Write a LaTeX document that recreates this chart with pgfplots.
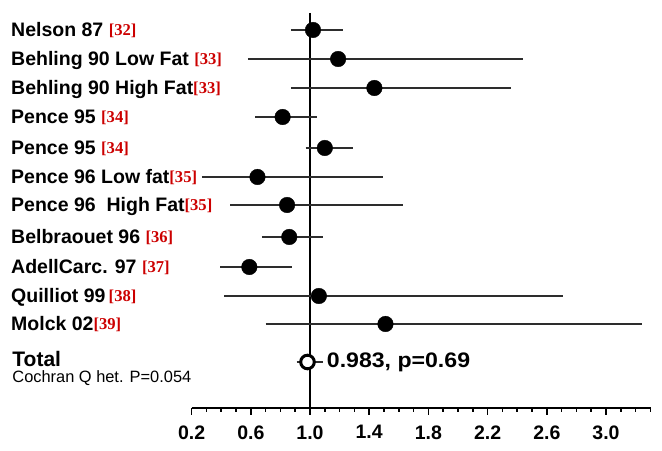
\documentclass[border=0pt]{standalone}
\usepackage{pgfplots}
\pgfplotsset{compat=1.18}
\usepackage{graphicx}
\usepackage{fontspec}
\setmainfont{Liberation Sans}
\newfontfamily\reffont{Liberation Serif}
\definecolor{refred}{RGB}{204,0,0}
\definecolor{cigray}{RGB}{45,45,45}
\newcommand{\rf}[1]{{\reffont\bfseries\fontsize{16.6bp}{18bp}\selectfont\color{refred}\raisebox{1.2bp}{#1}}}
\newcommand{\lab}{\bfseries\fontsize{19.5bp}{22bp}\selectfont}
\begin{document}
\begin{tikzpicture}[x=1bp,y=1bp]
\useasboundingbox (0,0) rectangle (662,451);
\begin{axis}[
  at={(191.6bp,43bp)}, anchor=south west,
  scale only axis, width=459.4bp, height=403bp,
  xmin=0.2, xmax=3.304, ymin=-408, ymax=-5,
  clip=false,
  axis y line=none, axis x line=bottom,
  x axis line style={-, line width=2bp, black},
  tick align=outside,
  major tick length=7bp, minor tick length=4bp,
  every tick/.style={line width=1.5bp, black},
  xtick={0.2,0.6,1.0,1.4,1.8,2.2,2.6,3.0},
  xticklabels={0.2,0.6,1.0,1.4,1.8,2.2,2.6,3.0},
  minor xtick={0.3,0.4,0.5,0.7,0.8,0.9,1.1,1.2,1.3,1.5,1.6,1.7,1.9,2.0,2.1,2.3,2.4,2.5,2.7,2.8,2.9,3.1,3.2,3.3},
  xticklabel style={font=\lab, yshift=-7bp},
]
% reference line at 1.0
\addplot[black, line width=1.7bp] coordinates {(1,-13) (1,-408)};
% confidence intervals
\addplot[cigray, line width=2bp, unbounded coords=jump] table {
x y
0.87 -30
1.22 -30
nan nan
0.58 -59
2.44 -59
nan nan
0.87 -88
2.36 -88
nan nan
0.63 -117
1.05 -117
nan nan
0.97 -148
1.29 -148
nan nan
0.27 -177
1.49 -177
nan nan
0.46 -205
1.63 -205
nan nan
0.675 -237
1.09 -237
nan nan
0.395 -267
0.88 -267
nan nan
0.42 -296
2.71 -296
nan nan
0.70 -324
3.24 -324
nan nan
0.91 -362
1.09 -362
};
% point estimates
\addplot[only marks, mark=*, mark size=7.8bp, black] table {
x y
1.02 -30
1.19 -59
1.435 -88
0.815 -117
1.10 -148
0.645 -177
0.845 -205
0.86 -237
0.59 -267
1.06 -296
1.51 -324
};
% total
\addplot[only marks, mark=*, mark size=6.8bp, mark options={fill=white, draw=black, line width=3bp}] coordinates {(0.983,-362)};
% labels
\node[anchor=base west, inner sep=0] at (axis cs:-1.020,-37) {\lab Nelson 87 \rf{[32]}};
\node[anchor=base west, inner sep=0] at (axis cs:-1.020,-66) {\lab Behling 90 Low Fat \rf{[33]}};
\node[anchor=base west, inner sep=0] at (axis cs:-1.020,-95) {\lab Behling 90 High Fat\rf{[33]}};
\node[anchor=base west, inner sep=0] at (axis cs:-1.020,-124) {\lab Pence 95 \rf{[34]}};
\node[anchor=base west, inner sep=0] at (axis cs:-1.020,-155) {\lab Pence 95 \rf{[34]}};
\node[anchor=base west, inner sep=0] at (axis cs:-1.020,-184) {\lab Pence 96 Low fat\rf{[35]}};
\node[anchor=base west, inner sep=0] at (axis cs:-1.020,-212) {\lab Pence 96\ \ High Fat\rf{[35]}};
\node[anchor=base west, inner sep=0] at (axis cs:-1.020,-244) {\lab Belbraouet 96 \rf{[36]}};
\node[anchor=base west, inner sep=0] at (axis cs:-1.020,-274) {\lab AdellCarc. 97 \rf{[37]}};
\node[anchor=base west, inner sep=0] at (axis cs:-1.020,-303) {\lab Quilliot 99\,\rf{[38]}};
\node[anchor=base west, inner sep=0] at (axis cs:-1.020,-331) {\lab Molck 02\rf{[39]}};
\node[anchor=base west, inner sep=0] at (axis cs:-1.012,-367) {\bfseries\fontsize{21bp}{24bp}\selectfont Total};
\node[anchor=base west, inner sep=0] at (axis cs:-1.012,-383) {\fontsize{16.4bp}{18bp}\selectfont Cochran Q het. P=0.054};
\node[anchor=base west, inner sep=0] at (axis cs:1.113,-368) {\scalebox{1.1}[1]{\bfseries\fontsize{21bp}{24bp}\selectfont 0.983, p=0.69}};
\end{axis}
\end{tikzpicture}
\end{document}
